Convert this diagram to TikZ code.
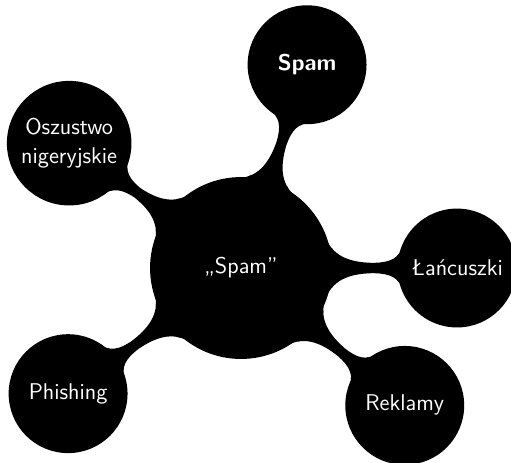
\documentclass[tikz,border=0pt]{standalone}
\usepackage{fontspec}
\usetikzlibrary{mindmap}

\begin{document}
\begin{tikzpicture}[mindmap, concept color=black, text=white, font=\sffamily,
    topic/.style={concept, fill=black, minimum size=2.6cm, text width=2.4cm, align=center, font=\sffamily\Large},
    link/.style={circle connection bar switch color=from (black) to (black)}]
    \useasboundingbox (-5.356,-4.333) rectangle (6.0,5.956);
    \node[concept, fill=black, minimum size=4cm, text width=3.5cm, align=center, font=\sffamily\Large] (root) {„Spam”};
    \node[topic] (spam) at (72:4.75) {\textbf{Spam}};
    \node[topic] (oszustwo) at (144:4.72) {Oszustwo nigeryjskie};
    \node[topic] (phishing) at (216:4.75) {Phishing};
    \node[topic] (reklamy) at (320:4.75) {Reklamy};
    \node[topic] (lancuszki) at (0:4.8) {Łańcuszki};

    \path (root) to[link] (spam);
    \path (root) to[link] (oszustwo);
    \path (root) to[link] (phishing);
    \path (root) to[link] (reklamy);
    \path (root) to[link] (lancuszki);
\end{tikzpicture}
\end{document}
